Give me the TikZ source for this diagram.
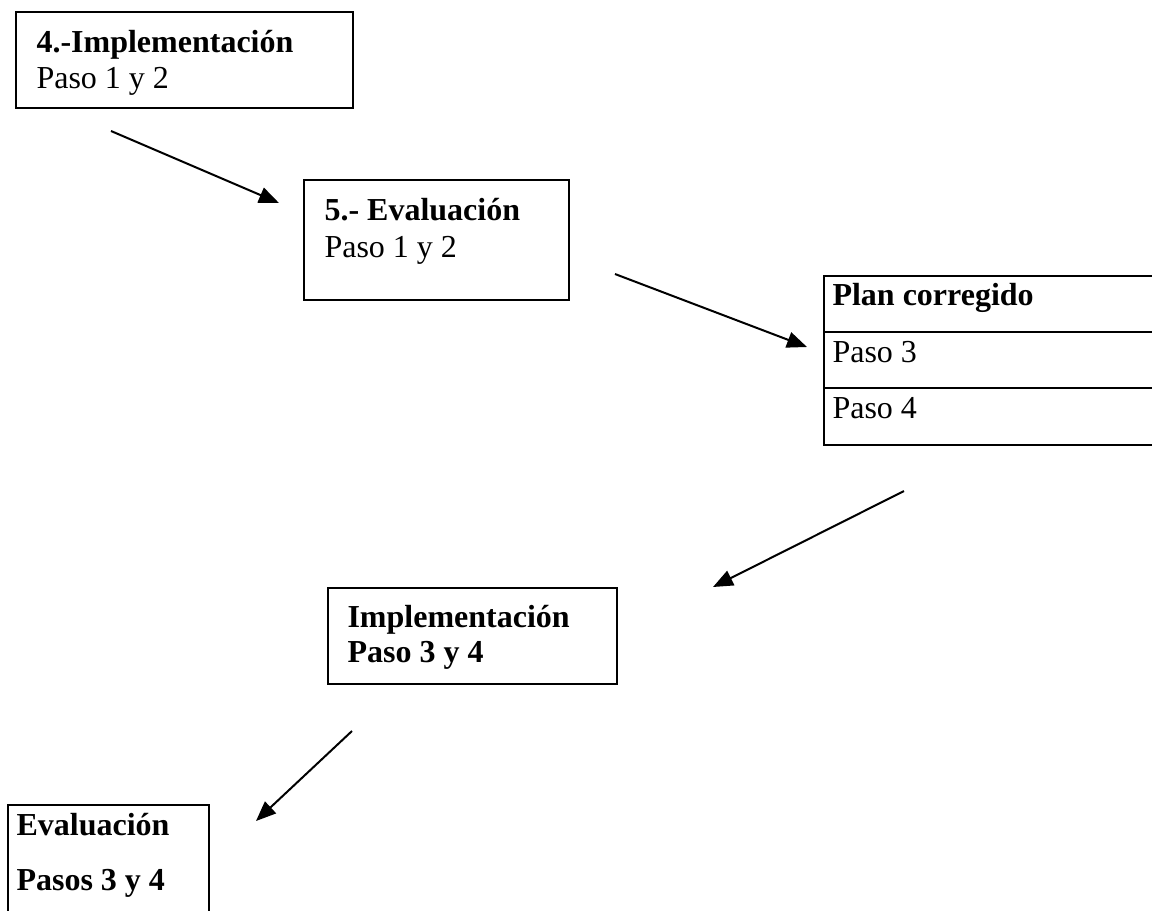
\documentclass[tikz,border=0pt]{standalone}
\usepackage{fontspec}
\setmainfont{Liberation Serif}
\usetikzlibrary{arrows.meta}
\newcommand{\pxu}{0.375pt}

\begin{document}
\begin{tikzpicture}[x=0.375pt,y=-0.375pt,line join=miter,
  box/.style={draw,line width=0.75pt,rectangle,inner sep=0pt,anchor=north west},
  txt/.style={anchor=base west,inner sep=0pt,font=\fontsize{12}{14}\selectfont},
  flecha/.style={->,line width=0.75pt},
  >={Triangle[length=7.5pt,width=6pt]}]
\clip (0,0) rectangle (1152,910);
% cajas
\node[box,minimum width=337*\pxu,minimum height=96*\pxu] (imp12) at (15,11) {};
\node[box,minimum width=265*\pxu,minimum height=120*\pxu] (eva12) at (303,179) {};
\node[box,minimum width=345*\pxu,minimum height=169*\pxu] (plan) at (823,275) {};
\draw[line width=0.75pt] (823,332) -- (1168,332);
\draw[line width=0.75pt] (823,388) -- (1168,388);
\node[box,minimum width=289*\pxu,minimum height=96*\pxu] (imp34) at (327,587) {};
\node[box,minimum width=201*\pxu,minimum height=116*\pxu] (eva34) at (7,804) {};
% textos
\node[txt] (imp12a) at (36,52) {\textbf{4.-Implementación}};
\node[txt] (imp12b) at (36,88) {Paso 1 y 2};
\node[txt] (eva12a) at (324,220) {\textbf{5.- Evaluación}};
\node[txt] (eva12b) at (324,257) {Paso 1 y 2};
\node[txt] (plana) at (832,305) {\textbf{Plan corregido}};
\node[txt] (planb) at (832,362) {Paso 3};
\node[txt] (planc) at (832,418) {Paso 4};
\node[txt] (imp34a) at (347,627) {\textbf{Implementación}};
\node[txt] (imp34b) at (347,662) {\textbf{Paso 3 y 4}};
\node[txt] (eva34a) at (16,835) {\textbf{Evaluación}};
\node[txt] (eva34b) at (16,890) {\textbf{Pasos 3 y 4}};
% flechas
\coordinate (f1a) at (111,131);
\coordinate (f1b) at (279,203);
\coordinate (f2a) at (615,274);
\coordinate (f2b) at (807,347);
\coordinate (f3a) at (904,491);
\coordinate (f3b) at (713,587);
\coordinate (f4a) at (352,731);
\coordinate (f4b) at (256,821);
\draw[flecha] (f1a) -- (f1b);
\draw[flecha] (f2a) -- (f2b);
\draw[flecha] (f3a) -- (f3b);
\draw[flecha] (f4a) -- (f4b);
\end{tikzpicture}
\end{document}
